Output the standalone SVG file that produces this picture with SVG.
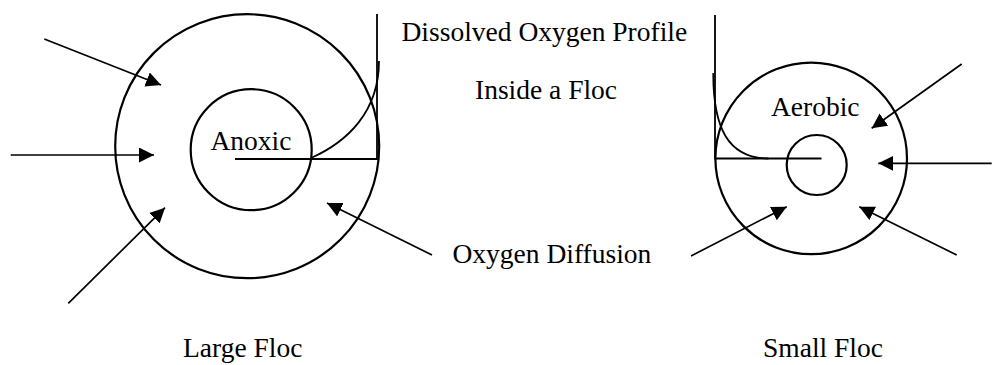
<svg xmlns="http://www.w3.org/2000/svg" width="992" height="365" viewBox="0 0 992 365">
<style>
  .ring { fill: none; stroke: #000; stroke-width: 2.2; }
  .axis { fill: none; stroke: #000; stroke-width: 1.8; }
  .arrow { fill: none; stroke: #000; stroke-width: 1.7; marker-end: url(#head); }
  text { font-family: "Liberation Serif", "Times New Roman", serif; font-size: 27.5px; fill: #000; }
</style>
<defs>
  <marker id="head" markerUnits="userSpaceOnUse" markerWidth="16" markerHeight="16" refX="15" refY="7.5" orient="auto">
    <path d="M0,0 L15,7.5 L0,15 Z" fill="#000"/>
  </marker>
</defs>
<rect width="992" height="365" fill="#fff"/>

<g id="large-floc">
  <circle class="ring" cx="247.2" cy="146.2" r="132"/>
  <circle class="ring" cx="251.2" cy="149.7" r="60.5"/>
  <text x="210.5" y="150">Anoxic</text>
  <text x="183" y="357">Large Floc</text>
</g>

<g id="large-profile">
  <path class="axis" d="M377,14 L377,159 L235,159"/>
  <path class="axis" d="M311,158 C347,142 379,112 379,61"/>
</g>

<g id="small-floc">
  <circle class="ring" cx="811.2" cy="158.4" r="95.8"/>
  <circle class="ring" cx="816.7" cy="165" r="30"/>
  <text x="771" y="116">Aerobic</text>
  <text x="763" y="357">Small Floc</text>
</g>

<g id="small-profile">
  <path class="axis" d="M715,15 L715,158.5 L821.5,158.5"/>
  <path class="axis" d="M713.3,73 C713,128 728,158 768.5,158.5"/>
</g>

<g id="labels">
  <text x="401.5" y="41">Dissolved Oxygen Profile</text>
  <text x="475" y="99">Inside a Floc</text>
  <text x="452.5" y="263">Oxygen Diffusion</text>
</g>

<g id="connectors">
  <line class="arrow" x1="44.3" y1="39" x2="161" y2="85"/>
  <line class="arrow" x1="10.7" y1="155" x2="154" y2="155"/>
  <line class="arrow" x1="68.3" y1="303.3" x2="165" y2="207.7"/>
  <line class="arrow" x1="432" y1="255" x2="327" y2="203"/>
  <line class="arrow" x1="961.7" y1="64" x2="871.7" y2="128.3"/>
  <line class="arrow" x1="991.7" y1="163.3" x2="878.3" y2="163.3"/>
  <line class="arrow" x1="691" y1="256" x2="786.7" y2="206.7"/>
  <line class="arrow" x1="956.7" y1="255" x2="859.3" y2="206.7"/>
</g>
</svg>
